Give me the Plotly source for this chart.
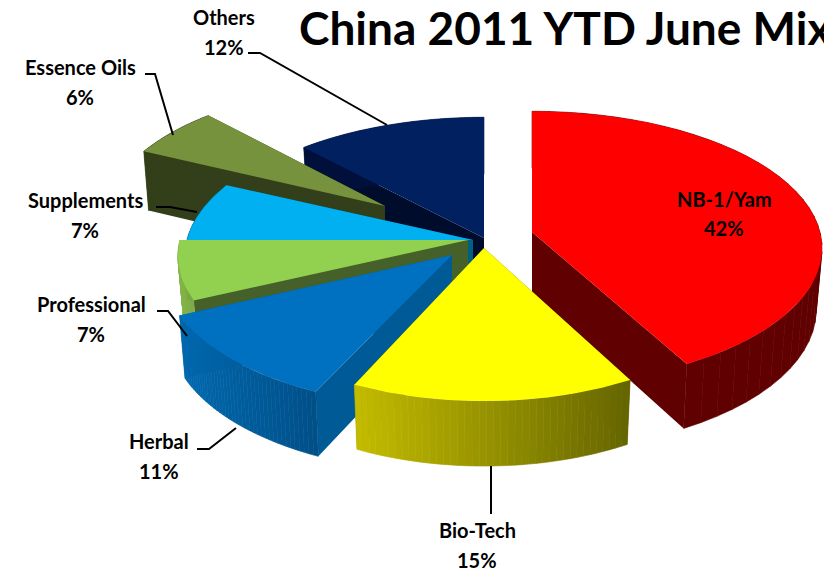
import numpy as np
import plotly.graph_objects as go

# Sales mix, clockwise from twelve o'clock
categories = ["NB-1/Yam", "Bio-Tech", "Herbal", "Professional", "Supplements", "Essence Oils", "Others"]
shares = [42, 15, 11, 7, 7, 6, 12]
tick_labels = ["42%", "15%", "11%", "7%", "7%", "6%", "12%"]

# Face colours per slice, then the colours of the rim wall (left to right) and the cut faces
face_colors = ["#ff0000", "#ffff00", "#0070c0", "#92d050", "#00b0f0", "#76923c", "#002060"]
rim_left = ["#600000", "#c4bc00", "#0068ae", "#84b548", "#006a90", "#333f1a", "#00103a"]
rim_right = ["#600000", "#656500", "#004f88", "#7aa642", "#006a90", "#333f1a", "#00103a"]
cut_colors = ["#600000", "#656500", "#005a96", "#46602a", "#00607f", "#333f1a", "#000c2c"]

# Exploded tip of each slice on the canvas, and its horizontal radius
tip_x = [532, 484, 452, 468, 473, 385, 484]
tip_y = [232, 248, 255, 240, 240, 206, 238]
radius_x = [288, 272, 286, 288, 286, 280, 286]
radius_y = 135
perspective = 0.118
wall_shrink = 0.98
paint_order = [6, 5, 4, 3, 2, 0, 1]

fig = go.Figure()


def polygon(xs, ys, color, edge=0.0):
    fig.add_trace(go.Scatter(
        x=list(xs), y=list(ys), mode="lines", fill="toself", fillcolor=color,
        line=dict(color=color, width=edge), hoverinfo="skip", showlegend=False,
    ))


def rim_point(i, theta):
    """Project a rim angle (radians, clockwise from the back) onto the tilted top face."""
    depth = 1 + perspective * np.cos(theta)
    return (tip_x[i] + radius_x[i] * np.sin(theta) / depth,
            tip_y[i] - radius_y * np.cos(theta) / depth)


def lowered(i, x, y, theta):
    """Corresponding point on the underside of the disc."""
    return tip_x[i] + (x - tip_x[i]) * wall_shrink, y + 61 - 4 * np.cos(theta)


def blend(a, b, t):
    ca = [int(a[k:k + 2], 16) for k in (1, 3, 5)]
    cb = [int(b[k:k + 2], 16) for k in (1, 3, 5)]
    return "#%02x%02x%02x" % tuple(round(p + (q - p) * t) for p, q in zip(ca, cb))


edges = np.radians(np.cumsum([0] + shares) * 3.6)

for i in paint_order:
    start, stop = edges[i], edges[i + 1]

    # Cut faces running from the tip out to the rim
    for theta in (start, stop):
        rx, ry = rim_point(i, theta)
        bx, by = lowered(i, rx, ry, theta)
        polygon([tip_x[i], rx, bx, tip_x[i], tip_x[i]],
                [tip_y[i], ry, by, tip_y[i] + 60, tip_y[i]], cut_colors[i])

    # Outer wall, built from narrow strips so the shading can vary across it
    steps = np.linspace(start, stop, 41)
    px, py = rim_point(i, steps)
    qx, qy = lowered(i, px, py, steps)
    span = px.max() - px.min()
    for k in range(40):
        shade = blend(rim_left[i], rim_right[i], ((px[k] + px[k + 1]) / 2 - px.min()) / span)
        polygon([px[k], px[k + 1], qx[k + 1], qx[k], px[k]],
                [py[k], py[k + 1], qy[k + 1], qy[k], py[k]], shade, edge=0.6)

    # Top face
    arc = np.linspace(start, stop, 90)
    ax, ay = rim_point(i, arc)
    polygon(np.r_[tip_x[i], ax, tip_x[i]], np.r_[tip_y[i], ay, tip_y[i]], face_colors[i])

# Leader lines from the outside labels to their slices
leaders = {
    "Bio-Tech": ([491, 491], [466, 514]),
    "Herbal": ([197, 209, 236], [449, 449, 428]),
    "Professional": ([157, 168, 187], [311, 311, 336]),
    "Supplements": ([156, 170, 197], [207, 207, 212]),
    "Essence Oils": ([145, 155, 173], [74, 74, 135]),
    "Others": ([248, 260, 387], [53, 53, 125]),
}
for xs, ys in leaders.values():
    fig.add_trace(go.Scatter(x=xs, y=ys, mode="lines", line=dict(color="#000000", width=2),
                             hoverinfo="skip", showlegend=False))

# Two-line labels: name above share
label_x = [724, 477, 159, 91, 85, 80, 224]
name_y = [199, 530, 441, 304, 200, 67, 17]
share_y = [228, 560, 471, 334, 230, 97, 47]
annotations = []
for name, pct, lx, ny, sy in zip(categories, tick_labels, label_x, name_y, share_y):
    for text, ty in ((name, ny), (pct, sy)):
        annotations.append(dict(x=lx, y=ty, text=text, showarrow=False, xanchor="center", yanchor="middle",
                                font=dict(family="Lato", size=20, color="#000000", weight="bold")))
annotations.append(dict(x=565, y=27, text="China 2011 YTD June Mix", showarrow=False,
                        xanchor="center", yanchor="middle",
                        font=dict(family="Lato", size=46, color="#000000", weight="bold")))

fig.update_layout(
    width=824, height=573, autosize=False,
    margin=dict(l=0, r=0, t=0, b=0),
    paper_bgcolor="#ffffff", plot_bgcolor="#ffffff",
    xaxis=dict(range=[0, 824], visible=False, fixedrange=True),
    yaxis=dict(range=[573, 0], visible=False, fixedrange=True),
    annotations=annotations,
)

fig.write_html("out.html", config=dict(displayModeBar=False))
